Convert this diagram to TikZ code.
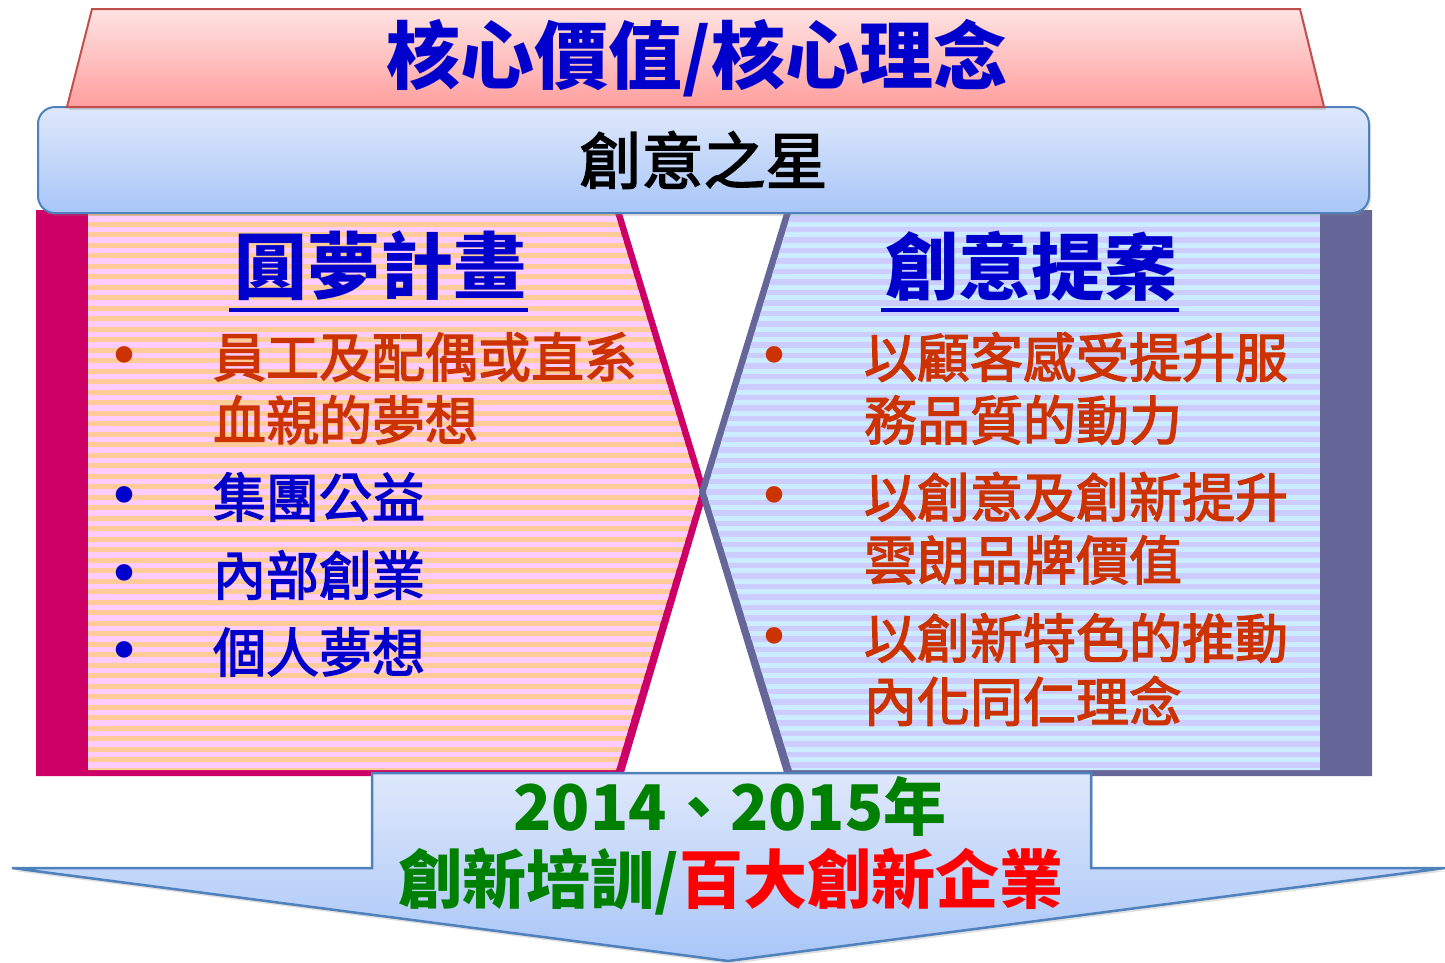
\documentclass[tikz,border=0pt]{standalone}
\usepackage{fontspec}
\setmainfont{Noto Sans CJK TC}
\newfontfamily\medfont[FakeBold=2.5]{Noto Sans CJK TC}
\usetikzlibrary{shadows}
\definecolor{magbar}{HTML}{CC0066}
\definecolor{purbar}{HTML}{666699}
\definecolor{stpink}{HTML}{FFCCFF}
\definecolor{storange}{HTML}{FFCC99}
\definecolor{stblue}{HTML}{CCECFF}
\definecolor{stlav}{HTML}{CCCCFF}
\definecolor{ttlblue}{HTML}{0000CC}
\definecolor{itemred}{HTML}{CC3300}
\definecolor{dgreen}{HTML}{008000}
\definecolor{boxblue}{HTML}{4F81BD}
\definecolor{trapred}{HTML}{C0504D}
\definecolor{bluetop}{HTML}{DFE8FB}
\definecolor{bluebot}{HTML}{A8C6F8}
\definecolor{pinktop}{HTML}{FFE3E3}
\definecolor{pinkbot}{HTML}{FF9E9E}
\tikzset{
  softshadow/.style={drop shadow={opacity=0.25,shadow xshift=2pt,shadow yshift=-3pt}},
  txt/.style={inner sep=0pt,outer sep=0pt},
  head/.style={txt,text=ttlblue,font=\fontsize{73}{80}\selectfont\bfseries},
  itemtxt/.style={txt,anchor=west,font=\fontsize{53}{60}\selectfont\medfont},
  bul/.style={txt,font=\fontsize{78}{80}\selectfont,text height=52pt,text depth=-40pt},
}
\begin{document}
\begin{tikzpicture}[x=1pt,y=-1pt]
\useasboundingbox (0,0) rectangle (1445,962);

% ---- left panel
\fill[magbar] (36,210) -- (621,210) -- (707,492) -- (623,776) -- (36,776) -- cycle;
\begin{scope}
  \clip (88,210) -- (614,210) -- (700,492) -- (616,770) -- (88,770) -- cycle;
  \fill[storange] (88,210) rectangle (710,776);
  \foreach \k in {0,...,54} \fill[stpink] (88,{216+\k*10.5}) rectangle (710,{221.5+\k*10.5});
\end{scope}

% ---- right panel
\fill[purbar] (1372,210) -- (785,210) -- (699,492) -- (785,776) -- (1372,776) -- cycle;
\begin{scope}
  \clip (1320,210) -- (792,210) -- (706,492) -- (792,770) -- (1320,770) -- cycle;
  \fill[stblue] (700,210) rectangle (1320,776);
  \foreach \k in {0,...,54} \fill[stlav] (700,{216+\k*10.5}) rectangle (1320,{221.5+\k*10.5});
\end{scope}

% ---- middle rounded box
\node[softshadow, draw=boxblue, line width=2pt, top color=bluetop, bottom color=bluebot,
      rounded corners=17pt, minimum width=1331pt, minimum height=106pt, inner sep=0pt,
      font=\fontsize{62}{70}\selectfont\medfont, text=black] (star) at (703.5,160) {創意之星};

% ---- top trapezoid
\path[softshadow, draw=trapred, line width=2pt, top color=pinktop, bottom color=pinkbot]
  (92,9) -- (1300,9) -- (1324,107) -- (67,107) -- cycle;
\node[txt, text=ttlblue, font=\fontsize{74}{80}\selectfont\bfseries] (core) at (697,58) {核心價值/核心理念};

% ---- headings
\node[head] (dream) at (380,266) {圓夢計畫};
\draw[ttlblue, line width=4pt] (229,310) -- (528,310);
\node[head] (idea) at (1031,266) {創意提案};
\draw[ttlblue, line width=4pt] (881,310) -- (1179,310);

% ---- left items
\node[bul, text=itemred] (lb1) at (124,358) {•};
\node[itemtxt, text=itemred] (l1a) at (213,357) {員工及配偶或直系};
\node[itemtxt, text=itemred] (l1b) at (213,420) {血親的夢想};
\node[bul, text=ttlblue] (lb2) at (124,498) {•};
\node[itemtxt, text=ttlblue] (l2) at (213,497) {集團公益};
\node[bul, text=ttlblue] (lb3) at (124,576) {•};
\node[itemtxt, text=ttlblue] (l3) at (213,575) {內部創業};
\node[bul, text=ttlblue] (lb4) at (124,653) {•};
\node[itemtxt, text=ttlblue] (l4) at (213,652) {個人夢想};

% ---- right items
\node[bul, text=itemred] (rb1) at (774,358) {•};
\node[itemtxt, text=itemred] (r1a) at (864,357) {以顧客感受提升服};
\node[itemtxt, text=itemred] (r1b) at (864,420) {務品質的動力};
\node[bul, text=itemred] (rb2) at (774,498) {•};
\node[itemtxt, text=itemred] (r2a) at (864,497) {以創意及創新提升};
\node[itemtxt, text=itemred] (r2b) at (864,560) {雲朗品牌價值};
\node[bul, text=itemred] (rb3) at (774,639) {•};
\node[itemtxt, text=itemred] (r3a) at (864,638) {以創新特色的推動};
\node[itemtxt, text=itemred] (r3b) at (864,701) {內化同仁理念};

% ---- bottom arrow
\path[softshadow, draw=boxblue, line width=2.5pt, top color=bluetop, bottom color=bluebot]
  (372,773) -- (1091,773) -- (1091,868) -- (1445,868) -- (728,961) -- (12,868) -- (372,868) -- cycle;
\node[txt, text=dgreen, font=\fontsize{63}{70}\selectfont\bfseries] (years) at (730,806) {2014、2015年};
\node[txt, font=\fontsize{64}{70}\selectfont\bfseries] (award) at (731,882)
  {\textcolor{dgreen}{創新培訓/}\textcolor{red}{百大創新企業}};
\end{tikzpicture}
\end{document}
